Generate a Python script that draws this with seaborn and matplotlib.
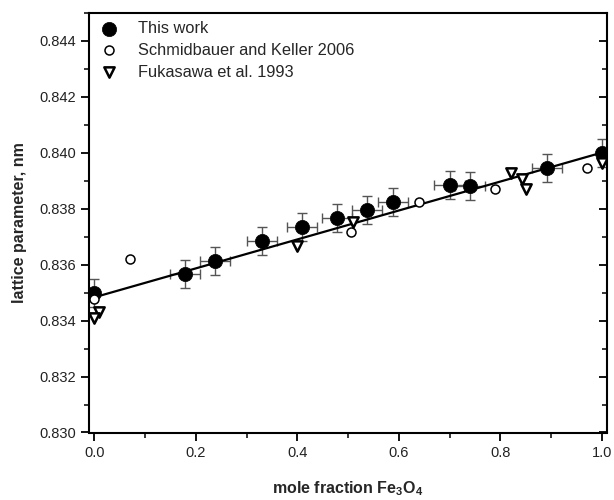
import matplotlib
matplotlib.use("Agg")
import matplotlib.pyplot as plt
from matplotlib.ticker import MultipleLocator, FormatStrFormatter
import seaborn as sns
import numpy as np
import pandas as pd

# --- data ---
this_x = [0.0, 0.179, 0.238, 0.330, 0.409, 0.478, 0.537, 0.589, 0.700, 0.740, 0.892, 1.0]
this_y = [0.83498, 0.83566, 0.83612, 0.83684, 0.83734, 0.83766, 0.83795, 0.83824,
          0.83884, 0.83881, 0.83945, 0.83999]
this_xerr = [0.0, 0.03, 0.03, 0.03, 0.03, 0.03, 0.03, 0.03, 0.03, 0.03, 0.03, 0.0]
this_yerr = [0.0005] * 12

schm_x = [0.0, 0.070, 0.506, 0.640, 0.789, 0.971]
schm_y = [0.83476, 0.83619, 0.83716, 0.83824, 0.83870, 0.83945]

fuka_x = [0.009, 0.0, 0.399, 0.510, 0.821, 0.843, 0.851, 1.0]
fuka_y = [0.83430, 0.83408, 0.83666, 0.83752, 0.83927, 0.83906, 0.83870, 0.83963]

fit_x = [0.0, 1.0]
fit_y = [0.83483, 0.84000]

labels = ["This work", "Schmidbauer and Keller 2006", "Fukasawa et al. 1993"]
x_ticks = [0.0, 0.2, 0.4, 0.6, 0.8, 1.0]
y_ticks = [0.830, 0.832, 0.834, 0.836, 0.838, 0.840, 0.842, 0.844]

# --- style ---
sns.set_theme(style="ticks")
plt.rcParams['font.family'] = ['Liberation Sans', 'DejaVu Sans']
plt.rcParams['mathtext.fontset'] = 'custom'
plt.rcParams['mathtext.rm'] = 'Liberation Sans'
plt.rcParams['mathtext.bf'] = 'Liberation Sans:bold'

fig = plt.figure(figsize=(6.14, 5.0), dpi=100)
ax = fig.add_axes([0.145, 0.135, 0.9886 - 0.145, 0.9746 - 0.135])

df_this = pd.DataFrame({"x": this_x, "y": this_y})
df_schm = pd.DataFrame({"x": schm_x, "y": schm_y})
df_fuka = pd.DataFrame({"x": fuka_x, "y": fuka_y})
df_fit = pd.DataFrame({"x": fit_x, "y": fit_y})

ax.errorbar(this_x, this_y, xerr=this_xerr, yerr=this_yerr, fmt='none',
            ecolor='#555555', elinewidth=1.0, capsize=3.5, capthick=1.0, zorder=2)

sns.lineplot(data=df_fit, x="x", y="y", ax=ax, color='black', lw=1.6, zorder=3,
             legend=False)

sns.scatterplot(data=df_this, x="x", y="y", ax=ax, marker='o', s=105,
                color='black', edgecolor='black', linewidth=0.5, zorder=4,
                label=labels[0])
sns.scatterplot(data=df_schm, x="x", y="y", ax=ax, marker='o', s=42,
                facecolor='white', edgecolor='black', linewidth=1.1, zorder=5,
                label=labels[1])
sns.scatterplot(data=df_fuka, x="x", y="y", ax=ax, marker='v', s=55,
                facecolor='white', edgecolor='black', linewidth=1.8, zorder=5,
                label=labels[2])

ax.set_xlim(-0.0104, 1.0103)
ax.set_ylim(0.830, 0.845)
ax.set_xticks(x_ticks)
ax.set_yticks(y_ticks)
ax.xaxis.set_major_formatter(FormatStrFormatter('%.1f'))
ax.yaxis.set_major_formatter(FormatStrFormatter('%.3f'))
ax.xaxis.set_minor_locator(MultipleLocator(0.1))
ax.yaxis.set_minor_locator(MultipleLocator(0.001))

for s in ax.spines.values():
    s.set_linewidth(1.5)
    s.set_color('black')

ax.tick_params(axis='both', which='major', direction='out', length=6, width=1.3,
               labelsize=10.5, colors='black', labelcolor='#222222')
ax.tick_params(axis='both', which='minor', direction='out', length=3.5, width=1.3)
ax.tick_params(axis='y', which='both', right=True, labelright=False)
for t in ax.yaxis.get_major_ticks() + ax.yaxis.get_minor_ticks():
    t.tick2line.set_marker(matplotlib.lines.TICKLEFT)

ax.set_xlabel("mole fraction Fe$_\\mathbf{3}$O$_\\mathbf{4}$", fontsize=11.5,
              fontweight='bold', labelpad=14)
ax.set_ylabel("lattice parameter, nm", fontsize=11.5, fontweight='bold', labelpad=9)

leg = ax.legend(loc='upper left', frameon=False, fontsize=11.8,
                handletextpad=1.1, borderaxespad=0.2, labelspacing=0.42,
                handlelength=1.4, borderpad=0.3)

fig.savefig("out.png", dpi=100)
